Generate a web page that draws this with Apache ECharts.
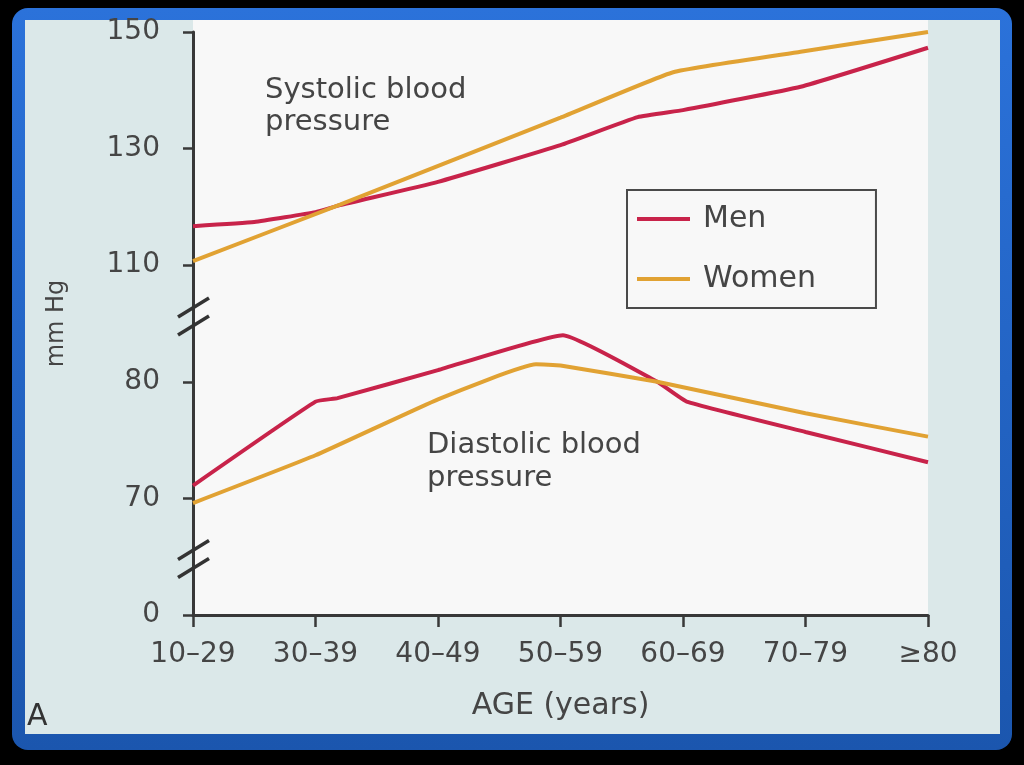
<!DOCTYPE html>
<html><head><meta charset="utf-8">
<script src="https://cdn.jsdelivr.net/npm/echarts@6/dist/echarts.min.js"></script>
<style>html,body{margin:0;padding:0;background:#000;}#c{width:1024px;height:765px;}</style>
</head><body><div id="c"></div>
<script>
// ---- data ----
const ageLabels = ['10–29', '30–39', '40–49', '50–59', '60–69', '70–79', '≥80'];
const systolicTicks = [110, 130, 150];
const diastolicTicks = [70, 80];
const zeroLabel = '0';
// x given in age-group index units (0 = 10–29 ... 6 = ≥80)
const menSysX   = [0, 0.5, 1, 1.2, 2, 3, 3.63, 4, 4.96, 6];
const menSysY   = [116.7, 117.4, 119.1, 120.3, 124.3, 130.6, 135.4, 136.6, 140.6, 147.3];
const womenSysX = [0, 1.2, 3, 3.92, 4.96, 6];
const womenSysY = [110.7, 120.4, 135.3, 143.1, 146.6, 150];
const menDiaX   = [0, 1, 1.18, 2, 3.02, 3.79, 4.03, 5, 6];
const menDiaY   = [71.1, 78.3, 78.6, 81.0, 84.0, 80.0, 78.3, 75.7, 73.1];
const womenDiaX = [0, 1, 2, 2.8, 3, 3.79, 5, 6];
const womenDiaY = [69.6, 73.7, 78.5, 81.5, 81.4, 80.0, 77.3, 75.3];
const breakAt   = [85.6, 64.8]; // axis-break marks, in diastolic units

const pairs = (xs, ys) => xs.map((x, i) => [x, ys[i]]);
const MEN = '#c8234a', WOMEN = '#e1a233', TXT = '#454545', AX = '#383838';
const FONT = '"DejaVu Sans", sans-serif';

const chart = echarts.init(document.getElementById('c'), null, {renderer: 'canvas'});

const lineSeries = (name, color, yIdx, data) => ({
  name, type: 'line', xAxisIndex: 0, yAxisIndex: yIdx, data,
  symbol: 'none', smooth: 0.12, color,
  lineStyle: {color, width: 4}, z: 3
});

chart.setOption({
  animation: false,
  backgroundColor: '#000',
  textStyle: {fontFamily: FONT},
  graphic: [
    {type: 'rect', z: -100, shape: {x: 12, y: 8, width: 1000, height: 742, r: 16},
     style: {fill: new echarts.graphic.LinearGradient(0, 0, 0, 1, [
       {offset: 0, color: '#2b72da'}, {offset: 1, color: '#1b56ae'}])}},
    {type: 'rect', z: -99, shape: {x: 25, y: 20, width: 975, height: 714},
     style: {fill: '#dbe8e9'}},
    {type: 'rect', z: -98, shape: {x: 193, y: 20, width: 735, height: 595},
     style: {fill: '#f8f8f8'}},
    {type: 'text', z: 10, style: {text: 'Systolic blood', x: 265, y: 90, fill: TXT, font: '29px ' + FONT, verticalAlign: 'middle'}},
    {type: 'text', z: 10, style: {text: 'pressure', x: 265, y: 122, fill: TXT, font: '29px ' + FONT, verticalAlign: 'middle'}},
    {type: 'text', z: 10, style: {text: 'Diastolic blood', x: 427, y: 445, fill: TXT, font: '29px ' + FONT, verticalAlign: 'middle'}},
    {type: 'text', z: 10, style: {text: 'pressure', x: 427, y: 478, fill: TXT, font: '29px ' + FONT, verticalAlign: 'middle'}},
    {type: 'text', z: 10, style: {text: 'A', x: 27, y: 717, fill: '#333', font: '30px ' + FONT, verticalAlign: 'middle'}}
  ],
  grid: {left: 193, top: 32, width: 735, height: 583, containLabel: false},
  legend: {
    data: ['Men', 'Women'], orient: 'vertical', left: 627, top: 190,
    icon: 'rect', itemWidth: 53, itemHeight: 4, itemGap: 30,
    padding: [14, 60, 14, 10],
    backgroundColor: '#f8f8f8', borderColor: '#4a4a4a', borderWidth: 2,
    textStyle: {fontSize: 30, color: TXT, fontFamily: FONT, padding: [0, 0, 0, 8]}
  },
  xAxis: {
    type: 'value', min: 0, max: 6, interval: 1,
    name: 'AGE (years)', nameLocation: 'middle', nameGap: 76,
    nameTextStyle: {fontSize: 30, color: TXT, fontFamily: FONT},
    axisLine: {lineStyle: {color: AX, width: 3}},
    axisTick: {show: true, length: 12, lineStyle: {color: AX, width: 2.5}},
    axisLabel: {fontSize: 28, color: TXT, margin: 26, fontFamily: FONT,
      formatter: v => ageLabels[Math.round(v)] || ''},
    splitLine: {show: false}
  },
  yAxis: [
    {
      type: 'value', min: 50, max: 150, interval: 20, position: 'left',
      name: 'mm Hg', nameLocation: 'middle', nameGap: 124,
      nameTextStyle: {fontSize: 24, color: TXT, fontFamily: FONT},
      axisLine: {show: true, lineStyle: {color: AX, width: 3}},
      axisTick: {show: true, length: 10, lineStyle: {color: AX, width: 2.5}},
      axisLabel: {fontSize: 28, color: TXT, margin: 33, fontFamily: FONT,
        formatter: v => systolicTicks.includes(v) ? String(v) : ''},
      splitLine: {show: false}
    },
    {
      type: 'value', min: 60, max: 110, interval: 10, position: 'left', offset: 0,
      axisLine: {show: false}, axisTick: {show: false},
      axisLabel: {fontSize: 28, color: TXT, margin: 33, fontFamily: FONT,
        formatter: v => v === 60 ? zeroLabel : (diastolicTicks.includes(v) ? String(v) : '')},
      splitLine: {show: false}
    }
  ],
  series: [
    lineSeries('Men', MEN, 0, pairs(menSysX, menSysY)),
    lineSeries('Women', WOMEN, 0, pairs(womenSysX, womenSysY)),
    lineSeries('Men', MEN, 1, pairs(menDiaX, menDiaY)),
    lineSeries('Women', WOMEN, 1, pairs(womenDiaX, womenDiaY)),
    {
      type: 'custom', name: 'breaks', xAxisIndex: 0, yAxisIndex: 1, clip: false, z: 5,
      data: breakAt.map(v => [0, v]),
      renderItem: (params, api) => {
        const p = api.coord([api.value(0), api.value(1)]);
        const mk = dy => ({type: 'line',
          shape: {x1: p[0] - 15, y1: p[1] + dy + 9.5, x2: p[0] + 16, y2: p[1] + dy - 9.5},
          style: {stroke: '#333', lineWidth: 3.5}});
        return {type: 'group', children: [mk(-9), mk(9)]};
      }
    }
  ]
});
</script>
</body></html>
